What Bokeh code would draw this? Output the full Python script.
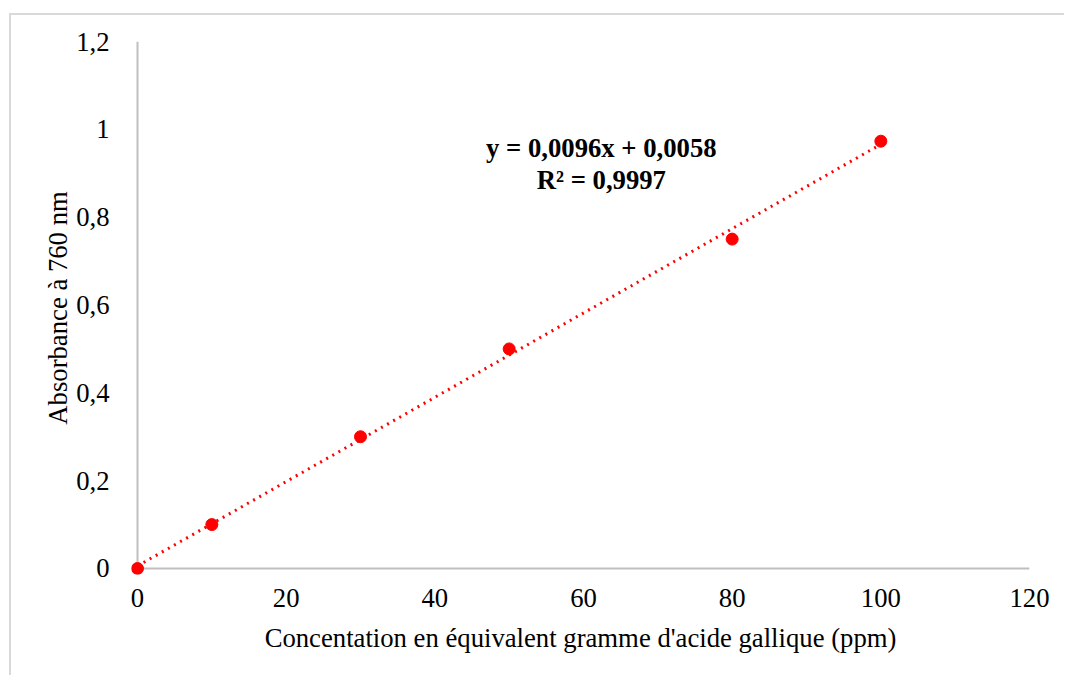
from bokeh.plotting import figure
from bokeh.models import Label, FixedTicker, Range1d, Span
from bokeh.embed import file_html
from bokeh.resources import INLINE

# data
conc = [0, 10, 30, 50, 80, 100]
absorb = [0.0, 0.1, 0.3, 0.5, 0.75, 0.973]
slope, intercept = 0.0096, 0.0058
eq_line1 = "y = 0,0096x + 0,0058"
eq_line2 = "R² = 0,9997"
x_ticks = [0, 20, 40, 60, 80, 100, 120]
y_ticks = [0, 0.2, 0.4, 0.6, 0.8, 1.0, 1.2]
y_tick_labels = {0: "0", 0.2: "0,2", 0.4: "0,4", 0.6: "0,6", 0.8: "0,8", 1.0: "1", 1.2: "1,2"}

FONT = "Liberation Serif"
FS = "26.7px"

p = figure(width=1055, height=662, output_backend="svg", toolbar_location=None,
           x_range=Range1d(-0.807, 120), y_range=Range1d(-0.01367, 1.2),
           min_border_left=120, min_border_right=37, min_border_top=26, min_border_bottom=103)
p.styles = {"border-left": "2px solid #d9d9d9", "border-top": "2px solid #d9d9d9",
            "margin-left": "9px", "margin-top": "13px"}
p.outline_line_color = None
p.grid.visible = False

for ax in (p.xaxis, p.yaxis):
    ax.axis_line_color = None
    ax.major_tick_line_color = None
    ax.minor_tick_line_color = None
    ax.major_label_text_font = FONT
    ax.major_label_text_font_size = FS
    ax.major_label_text_color = "black"
    ax.axis_label_text_font = FONT
    ax.axis_label_text_font_size = FS
    ax.axis_label_text_font_style = "normal"
    ax.axis_label_text_color = "black"

p.xaxis.ticker = FixedTicker(ticks=x_ticks)
p.yaxis.ticker = FixedTicker(ticks=y_ticks)
p.yaxis.major_label_overrides = y_tick_labels
p.xaxis.major_label_standoff = 8
p.yaxis.major_label_standoff = 16
p.xaxis.axis_label = "Concentation en équivalent gramme d'acide gallique (ppm)"
p.yaxis.axis_label = "Absorbance à 760 nm"
p.xaxis.axis_label_standoff = 13
p.yaxis.axis_label_standoff = 0

# axis lines at zero (drawn under the markers)
p.add_layout(Span(location=0, dimension="height", line_color="#bfbfbf", line_width=2, level="underlay"))
p.add_layout(Span(location=0, dimension="width", line_color="#bfbfbf", line_width=2, level="underlay"))

# trendline
xs = [conc[0], conc[-1]]
ys = [slope * x + intercept for x in xs]
p.line(xs, ys, line_color="#ff0000", line_width=3, line_dash="2 5")

p.scatter(conc, absorb, size=12, fill_color="#ff0000", line_color="#ff0000")

p.add_layout(Label(x=62.4, y=0.957, text=eq_line1, text_align="center", text_baseline="middle",
                   text_font=FONT, text_font_size=FS, text_font_style="bold", text_color="black"))
p.add_layout(Label(x=62.4, y=0.884, text=eq_line2, text_align="center", text_baseline="middle",
                   text_font=FONT, text_font_size=FS, text_font_style="bold", text_color="black"))

open("out.html", "w").write(file_html(p, INLINE))
